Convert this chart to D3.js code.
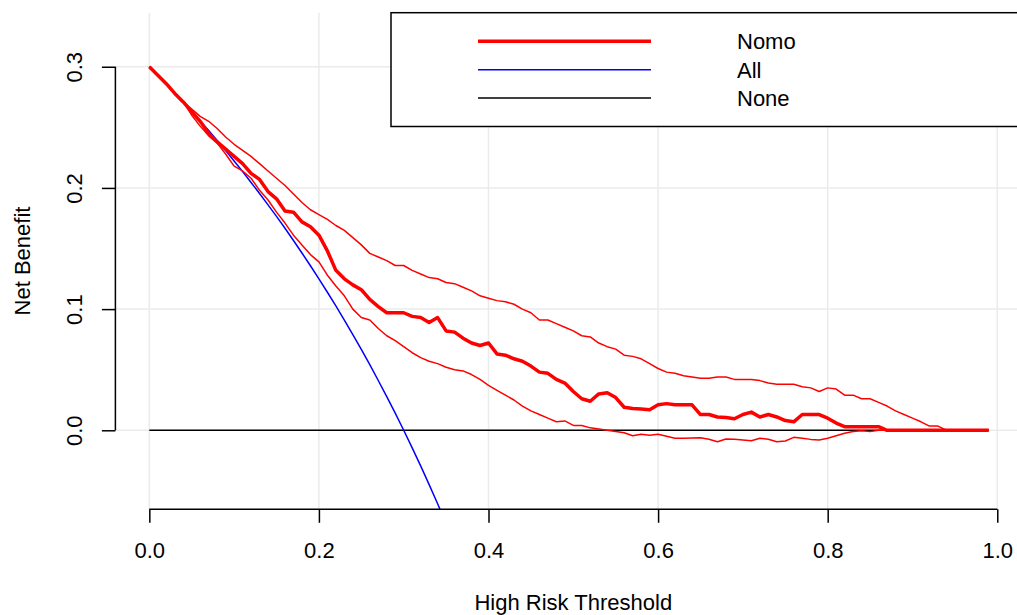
<!DOCTYPE html>
<html>
<head>
<meta charset="utf-8">
<script src="https://cdn.jsdelivr.net/npm/d3@7"></script>
<style>
    html, body { margin: 0; padding: 0; background: #fff; }
    svg { display: block; font-family: "Liberation Sans", Arial, Helvetica, sans-serif; }
</style>
</head>
<body>
<div id="chart"></div>
<script>
//----- DATA ---------------------------------------//
var thresholds = d3.range(0, 100).map(function (i) { return i / 100; });

var nomo = [
    0.300, 0.293, 0.286, 0.278, 0.271, 0.263, 0.255, 0.245, 0.238, 0.232,
    0.226, 0.220, 0.212, 0.207, 0.197, 0.191, 0.181, 0.180, 0.172, 0.168,
    0.161, 0.148, 0.132, 0.125, 0.120, 0.116, 0.108, 0.102, 0.097, 0.097,
    0.097, 0.094, 0.093, 0.089, 0.093, 0.082, 0.081, 0.076, 0.072, 0.070,
    0.072, 0.063, 0.062, 0.059, 0.057, 0.053, 0.048, 0.047, 0.042, 0.039,
    0.032, 0.026, 0.024, 0.030, 0.031, 0.027, 0.019, 0.018, 0.0175, 0.017,
    0.021, 0.022, 0.021, 0.021, 0.021, 0.013, 0.013, 0.011, 0.0105, 0.0095,
    0.013, 0.015, 0.011, 0.013, 0.011, 0.008, 0.007, 0.013, 0.013, 0.013,
    0.010, 0.006, 0.003, 0.003, 0.003, 0.003, 0.003, 0, 0, 0,
    0, 0, 0, 0, 0, 0, 0, 0, 0, 0
];

var nomoUpper = [
    0.300, 0.293, 0.286, 0.278, 0.271, 0.265, 0.259, 0.255, 0.249, 0.242,
    0.236, 0.231, 0.226, 0.220, 0.214, 0.208, 0.202, 0.195, 0.188, 0.182,
    0.178, 0.174, 0.169, 0.165, 0.159, 0.153, 0.146, 0.143, 0.140, 0.136,
    0.136, 0.132, 0.129, 0.126, 0.125, 0.122, 0.121, 0.118, 0.115, 0.111,
    0.109, 0.107, 0.106, 0.104, 0.100, 0.097, 0.091, 0.091, 0.088, 0.085,
    0.082, 0.078, 0.077, 0.072, 0.069, 0.067, 0.062, 0.061, 0.059, 0.055,
    0.051, 0.048, 0.047, 0.045, 0.044, 0.043, 0.043, 0.044, 0.044, 0.042,
    0.042, 0.042, 0.041, 0.039, 0.038, 0.038, 0.038, 0.036, 0.035, 0.032,
    0.035, 0.034, 0.029, 0.029, 0.026, 0.026, 0.023, 0.020, 0.016, 0.013,
    0.010, 0.007, 0.0035, 0.0035, 0, 0, 0, 0, 0, 0
];

var nomoLower = [
    0.300, 0.293, 0.286, 0.278, 0.271, 0.260, 0.251, 0.243, 0.237, 0.228,
    0.218, 0.214, 0.208, 0.198, 0.190, 0.180, 0.171, 0.161, 0.153, 0.145,
    0.139, 0.128, 0.119, 0.111, 0.100, 0.093, 0.091, 0.084, 0.078, 0.074,
    0.069, 0.064, 0.060, 0.057, 0.055, 0.052, 0.050, 0.049, 0.046, 0.042,
    0.037, 0.033, 0.029, 0.025, 0.020, 0.016, 0.013, 0.010, 0.007, 0.0077,
    0.004, 0.004, 0.002, 0.001, 0, -0.001, -0.002, -0.0045, -0.0033, -0.004,
    -0.0033, -0.005, -0.0066, -0.0065, -0.0063, -0.0061, -0.0074, -0.0094, -0.0072, -0.0074,
    -0.008, -0.0086, -0.0066, -0.0074, -0.0094, -0.0088, -0.0058, -0.0066, -0.0075, -0.008,
    -0.0065, -0.0045, -0.0025, -0.001, -0.0003, -0.0011, 0, 0, 0, 0,
    0, 0, 0, 0, 0, 0, 0, 0, 0, 0
];

// treat-all curve, only the part that is inside the plot
var allThresholds = thresholds.slice(0, 36);
var treatAll = [
    0.3000, 0.2929, 0.2857, 0.2784, 0.2708, 0.2632, 0.2553, 0.2473, 0.2391, 0.2308,
    0.2222, 0.2135, 0.2045, 0.1954, 0.1860, 0.1765, 0.1667, 0.1566, 0.1463, 0.1358,
    0.1250, 0.1139, 0.1026, 0.0909, 0.0789, 0.0667, 0.0541, 0.0411, 0.0278, 0.0141,
    0.0000, -0.0145, -0.0294, -0.0448, -0.0606, -0.0769
];

var treatNone = thresholds.map(function () { return 0; });

var xTicks = [0, 0.2, 0.4, 0.6, 0.8, 1.0];
var yTicks = [0, 0.1, 0.2, 0.3];
var legendLabels = ['Nomo', 'All', 'None'];

(function (d3) {
    'use strict';

        //----- SETTINGS -----------------------------------//
    var WIDTH = 1017,
        HEIGHT = 615,
        PLOT_LEFT = 115.4,
        PLOT_RIGHT = 1031.2,
        PLOT_TOP = 12.7,
        PLOT_BOTTOM = 509.3,
        FONT_SIZE = 22,
        TICK_LEN = 13.5,
        GRID_COLOR = '#ebebeb',
        RED = '#ff0000',
        BLUE = '#0000ff',
        BLACK = '#000000';

    //----- SCALES -------------------------------------//
    var x = d3.scaleLinear().domain([-0.04, 1.04]).range([PLOT_LEFT, PLOT_RIGHT]);
    var y = d3.scaleLinear().domain([-0.0652, 0.3446]).range([PLOT_BOTTOM, PLOT_TOP]);

    var svg = d3.select('#chart')
        .append('svg')
            .attr('width', WIDTH)
            .attr('height', HEIGHT);

    svg.append('defs').append('clipPath')
        .attr('id', 'plot-clip')
        .append('rect')
            .attr('x', PLOT_LEFT)
            .attr('y', PLOT_TOP)
            .attr('width', PLOT_RIGHT - PLOT_LEFT)
            .attr('height', PLOT_BOTTOM - PLOT_TOP);

    //----- GRID ---------------------------------------//
    var grid = svg.append('g').attr('class', 'grid');

    grid.selectAll('line.v')
        .data(xTicks).enter()
        .append('line')
            .attr('class', 'v')
            .attr('x1', x).attr('x2', x)
            .attr('y1', PLOT_TOP).attr('y2', PLOT_BOTTOM)
            .attr('stroke', GRID_COLOR)
            .attr('stroke-width', 1.5);

    grid.selectAll('line.h')
        .data(yTicks).enter()
        .append('line')
            .attr('class', 'h')
            .attr('x1', PLOT_LEFT).attr('x2', PLOT_RIGHT)
            .attr('y1', y).attr('y2', y)
            .attr('stroke', GRID_COLOR)
            .attr('stroke-width', 1.5);

    //----- CURVES -------------------------------------//
    var plot = svg.append('g').attr('clip-path', 'url(#plot-clip)');

    function curve(xs, ys) {
        return d3.line()
            .x(function (d, i) { return x(xs[i]); })
            .y(function (d) { return y(d); })(ys);
    }

    var series = [
        { xs: thresholds, ys: treatNone, color: BLACK, width: 1.5 },
        { xs: allThresholds, ys: treatAll, color: BLUE, width: 1.5 },
        { xs: thresholds, ys: nomoUpper, color: RED, width: 1.5 },
        { xs: thresholds, ys: nomoLower, color: RED, width: 1.5 },
        { xs: thresholds, ys: nomo, color: RED, width: 3.5 }
    ];

    plot.selectAll('path')
        .data(series).enter()
        .append('path')
            .attr('d', function (s) { return curve(s.xs, s.ys); })
            .attr('fill', 'none')
            .attr('stroke', function (s) { return s.color; })
            .attr('stroke-width', function (s) { return s.width; })
            .attr('stroke-linejoin', 'round');

    //----- X AXIS -------------------------------------//
    var xAxis = svg.append('g')
        .attr('transform', 'translate(0,' + PLOT_BOTTOM + ')')
        .call(d3.axisBottom(x)
            .tickValues(xTicks)
            .tickSize(TICK_LEN)
            .tickPadding(20)
            .tickFormat(d3.format('.1f')));
    xAxis.select('.domain').remove();
    xAxis.append('line')
        .attr('x1', x(xTicks[0])).attr('x2', x(xTicks[xTicks.length - 1]))
        .attr('stroke', BLACK).attr('stroke-width', 1.5);
    xAxis.selectAll('.tick line').attr('stroke', BLACK).attr('stroke-width', 1.5);
    xAxis.selectAll('.tick text')
        .attr('font-size', FONT_SIZE)
        .attr('font-family', '"Liberation Sans", Arial, sans-serif')
        .attr('fill', BLACK)
        .attr('dy', null)
        .attr('y', 48.5);

    //----- Y AXIS -------------------------------------//
    var yAxis = svg.append('g')
        .attr('transform', 'translate(' + PLOT_LEFT + ',0)')
        .call(d3.axisLeft(y)
            .tickValues(yTicks)
            .tickSize(TICK_LEN)
            .tickFormat(d3.format('.1f')));
    yAxis.select('.domain').remove();
    yAxis.append('line')
        .attr('y1', y(yTicks[0])).attr('y2', y(yTicks[yTicks.length - 1]))
        .attr('stroke', BLACK).attr('stroke-width', 1.5);
    yAxis.selectAll('.tick line').attr('stroke', BLACK).attr('stroke-width', 1.5);
    yAxis.selectAll('.tick text')
        .attr('font-size', FONT_SIZE)
        .attr('font-family', '"Liberation Sans", Arial, sans-serif')
        .attr('fill', BLACK)
        .attr('x', null).attr('dy', null)
        .attr('text-anchor', 'middle')
        .attr('transform', 'translate(-33,0) rotate(-90)');

    //----- AXIS TITLES --------------------------------//
    svg.append('text')
        .attr('x', (PLOT_LEFT + PLOT_RIGHT) / 2)
        .attr('y', 610)
        .attr('text-anchor', 'middle')
        .attr('font-size', FONT_SIZE)
        .text('High Risk Threshold');

    svg.append('text')
        .attr('transform', 'translate(29.5,' + (PLOT_TOP + PLOT_BOTTOM) / 2 + ') rotate(-90)')
        .attr('text-anchor', 'middle')
        .attr('font-size', FONT_SIZE)
        .text('Net Benefit');

    //----- LEGEND -------------------------------------//
    var legend = svg.append('g').attr('class', 'legend');
    var legendColors = [RED, BLUE, BLACK];
    var legendWidths = [3.5, 1.5, 1.5];
    var legendY = d3.scalePoint().domain(legendLabels).range([41.3, 98]);

    legend.append('rect')
        .attr('x', 391)
        .attr('y', PLOT_TOP)
        .attr('width', 700)
        .attr('height', 126.5 - PLOT_TOP)
        .attr('fill', '#fff')
        .attr('stroke', BLACK)
        .attr('stroke-width', 1.5);

    var item = legend.selectAll('g.item')
        .data(legendLabels).enter()
        .append('g')
            .attr('class', 'item')
            .attr('transform', function (d) { return 'translate(0,' + legendY(d) + ')'; });

    item.append('line')
        .attr('x1', 478).attr('x2', 651)
        .attr('stroke', function (d, i) { return legendColors[i]; })
        .attr('stroke-width', function (d, i) { return legendWidths[i]; });

    item.append('text')
        .attr('x', 737)
        .attr('y', 8)
        .attr('font-size', FONT_SIZE)
        .text(function (d) { return d; });

})(d3);
</script>
</body>
</html>
